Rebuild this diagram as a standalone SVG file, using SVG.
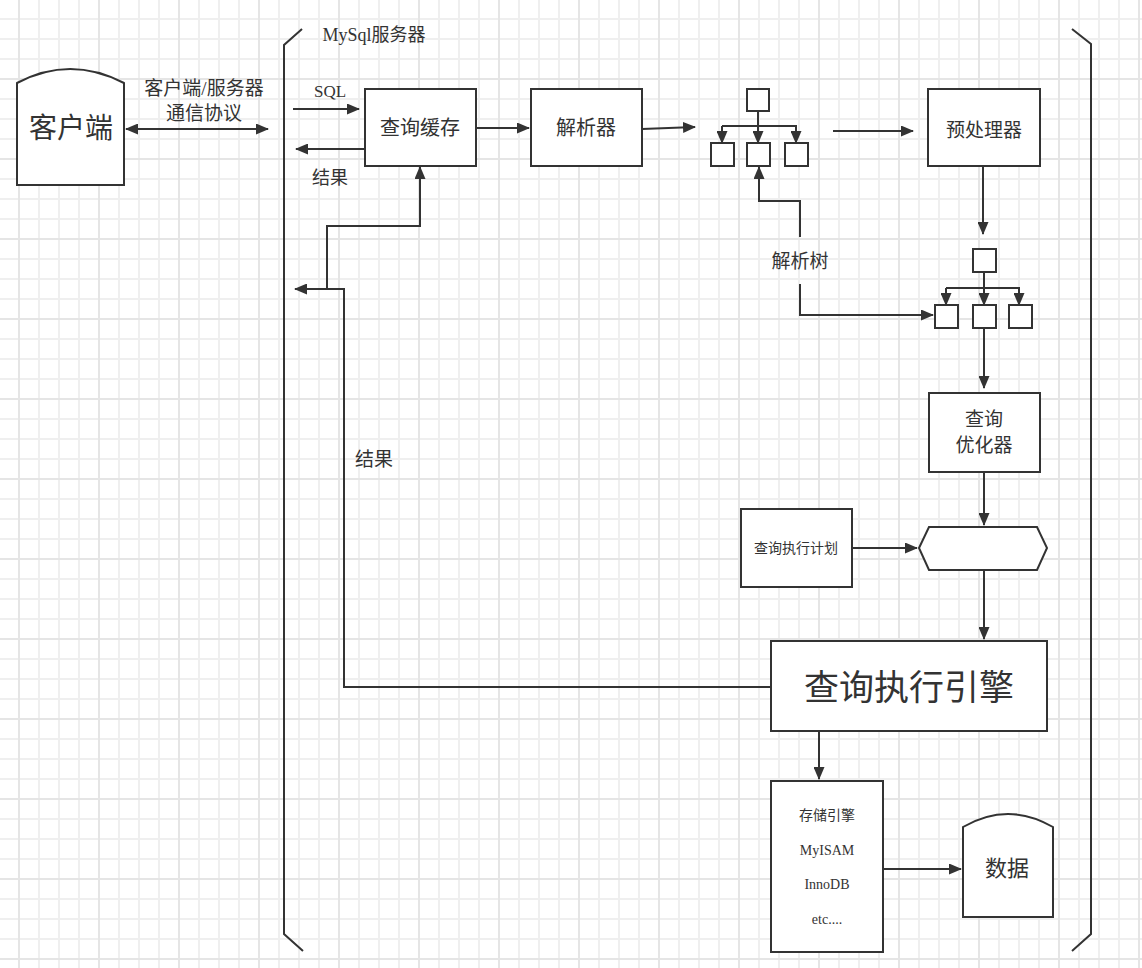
<svg xmlns="http://www.w3.org/2000/svg" width="1142" height="968" viewBox="0 0 1142 968">
<defs>
<pattern id="minor" x="18" y="18" width="20" height="20" patternUnits="userSpaceOnUse">
<path d="M0,1 H20 M1,0 V20" stroke="#efefef" stroke-width="2" fill="none"/>
</pattern>
<pattern id="major" x="18" y="78" width="80" height="80" patternUnits="userSpaceOnUse">
<path d="M0,1 H80 M1,0 V80" stroke="#e5e5e5" stroke-width="2" fill="none"/>
</pattern>
<marker id="arr" viewBox="0 0 13 11" refX="12" refY="5.5" markerWidth="13" markerHeight="11" markerUnits="userSpaceOnUse" orient="auto-start-reverse">
<path d="M0,0 L13,5.5 L0,11 Z" fill="#333"/>
</marker>
</defs>
<style>
.box{fill:#fff;stroke:#333;stroke-width:2}
.ln{fill:none;stroke:#333;stroke-width:2}
.ar{fill:none;stroke:#333;stroke-width:2;marker-end:url(#arr)}
.t{font-family:"Liberation Serif","Noto Sans CJK SC",serif;fill:#333;text-anchor:middle;dominant-baseline:central}
</style>
<rect width="1142" height="968" fill="#fff"/>
<rect width="1142" height="968" fill="url(#minor)"/>
<rect width="1142" height="968" fill="url(#major)"/>

<g id="server">
<path class="ln" d="M302,29 L284,45 L284,934 L303,951"/>
<path class="ln" d="M1072,29 L1091,44 L1091,934 L1072,951"/>
<text class="t" x="374" y="35" font-size="18">MySql服务器</text>
</g>

<g id="client">
<path class="box" d="M17,185 L17,83 Q70,55 124,83 L124,185 Z"/>
<text class="t" x="71" y="128" font-size="28">客户端</text>
</g>

<g id="cache">
<rect class="box" x="365" y="89" width="111" height="77"/>
<text class="t" x="420" y="128" font-size="20">查询缓存</text>
</g>

<g id="parser">
<rect class="box" x="531" y="89" width="111" height="77"/>
<text class="t" x="586" y="128" font-size="20">解析器</text>
</g>

<g id="tree1">
<rect class="box" x="747" y="89" width="22" height="22"/>
<rect class="box" x="711" y="143" width="23" height="23"/>
<rect class="box" x="747" y="143" width="23" height="23"/>
<rect class="box" x="785" y="143" width="23" height="23"/>
<path class="ln" d="M758,111 V126 M722,126 H797"/>
<path class="ar" d="M722,126 V143"/>
<path class="ar" d="M758,126 V143"/>
<path class="ar" d="M796,126 V143"/>
</g>

<g id="preprocessor">
<rect class="box" x="928" y="89" width="112" height="77"/>
<text class="t" x="984" y="130" font-size="19">预处理器</text>
</g>

<g id="tree2">
<rect class="box" x="973" y="249" width="23" height="23"/>
<rect class="box" x="935" y="305" width="23" height="23"/>
<rect class="box" x="973" y="305" width="23" height="23"/>
<rect class="box" x="1009" y="305" width="23" height="23"/>
<path class="ln" d="M984,272 V288 M946,288 H1020"/>
<path class="ar" d="M946,288 V305"/>
<path class="ar" d="M984,288 V305"/>
<path class="ar" d="M1019,288 V305"/>
</g>

<g id="parsetree-label">
<text class="t" x="800" y="261" font-size="19">解析树</text>
</g>

<g id="optimizer">
<rect class="box" x="929" y="393" width="111" height="79"/>
<text class="t" x="984" y="419" font-size="19">查询</text>
<text class="t" x="984" y="445" font-size="19">优化器</text>
</g>

<g id="plan">
<rect class="box" x="741" y="509" width="111" height="78"/>
<text class="t" x="796" y="548" font-size="14">查询执行计划</text>
</g>

<g id="hexagon">
<path class="box" d="M919,548 L929,527 L1037,527 L1047,548 L1037,570 L929,570 Z"/>
</g>

<g id="engine">
<rect class="box" x="771" y="641" width="276" height="90"/>
<text class="t" x="909" y="688" font-size="35">查询执行引擎</text>
</g>

<g id="storage">
<rect class="box" x="771" y="781" width="112" height="171"/>
<text class="t" x="827" y="815" font-size="14">存储引擎</text>
<text class="t" x="827" y="850" font-size="14">MyISAM</text>
<text class="t" x="827" y="884" font-size="14">InnoDB</text>
<text class="t" x="827" y="919" font-size="14">etc....</text>
</g>

<g id="data">
<path class="box" d="M963,917 L963,827 Q1008,801 1053,827 L1053,917 Z"/>
<text class="t" x="1007" y="868" font-size="22">数据</text>
</g>

<g id="connectors">
<path class="ln" d="M126,129 H268" marker-start="url(#arr)" marker-end="url(#arr)"/>
<text class="t" x="204" y="88" font-size="19">客户端/服务器</text>
<text class="t" x="204" y="113" font-size="19">通信协议</text>
<path class="ar" d="M293,109 H359"/>
<text class="t" x="330" y="91" font-size="17">SQL</text>
<path class="ar" d="M365,149 H296"/>
<text class="t" x="330" y="178" font-size="18">结果</text>
<path class="ar" d="M476,128 H529"/>
<path class="ar" d="M642,129 L695,127"/>
<path class="ar" d="M833,131 H913"/>
<path class="ar" d="M983,166 V234"/>
<path class="ar" d="M800,237 V201 H759 V167"/>
<path class="ar" d="M800,284 V315 H933"/>
<path class="ar" d="M984,328 V388"/>
<path class="ar" d="M984,472 V525"/>
<path class="ar" d="M852,548 H917"/>
<path class="ar" d="M984,570 V639"/>
<path class="ar" d="M771,687 H344 V289 H295"/>
<path class="ar" d="M327,289 V226 H420 V167"/>
<text class="t" x="374" y="459" font-size="19">结果</text>
<path class="ar" d="M819,731 V779"/>
<path class="ar" d="M883,869 H961"/>
</g>
</svg>
